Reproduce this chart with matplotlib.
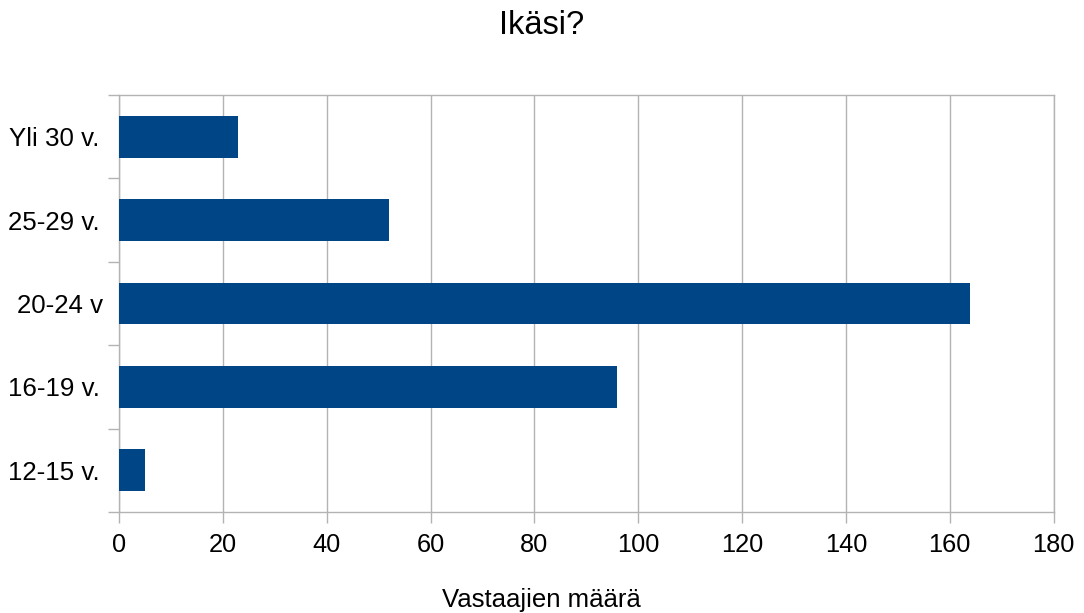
import matplotlib
matplotlib.use("Agg")
import matplotlib.pyplot as plt
import matplotlib.transforms as mtransforms
import numpy as np

categories = ["12-15 v.", "16-19 v.", "20-24 v", "25-29 v.", "Yli 30 v."]
values = [5, 96, 164, 52, 23]
xticks = [0, 20, 40, 60, 80, 100, 120, 140, 160, 180]

plt.rcParams['font.family'] = ['Liberation Sans', 'DejaVu Sans']

fig = plt.figure(figsize=(10.84, 6.13), dpi=100)
ax = fig.add_axes([119/1084, 1-512/613, (1053.5-119)/1084, (512-95)/613])

grid_c = "#b3b3b3"
y = np.arange(len(categories))
ax.barh(y, values, height=0.5, color="#004586", zorder=3)

ax.set_xlim(0, 180)
ax.set_ylim(-0.5, len(categories)-0.5)
ax.set_xticks(xticks)
ax.set_xticklabels([str(v) for v in xticks], fontsize=18.3)
ax.set_yticks(y)
ax.set_yticklabels(categories, fontsize=18.6)
ax.set_yticks(np.arange(-0.5, len(categories)), minor=True)

ax.xaxis.grid(True, color=grid_c, linewidth=1, zorder=0)
ax.tick_params(axis='x', which='major', length=8, width=1, color=grid_c, pad=7, labelcolor='black')
ax.tick_params(axis='y', which='major', length=0, pad=14, labelcolor='black')
ax.tick_params(axis='y', which='minor', length=8, width=1, color=grid_c)
for s in ax.spines.values():
    s.set_color(grid_c)
    s.set_linewidth(1)

# slight offset of the "20-24 v" label as in reference
lbl = ax.get_yticklabels()[2]
lbl.set_transform(lbl.get_transform() + mtransforms.ScaledTranslation(4/100, 0, fig.dpi_scale_trans))

fig.text(541/1084, 1-600/613, "Vastaajien määrä", fontsize=18.5, ha='center', va='center')
fig.suptitle("Ikäsi?", fontsize=23.5, y=1-25/613, va='center')

fig.savefig("out.png", dpi=100)
